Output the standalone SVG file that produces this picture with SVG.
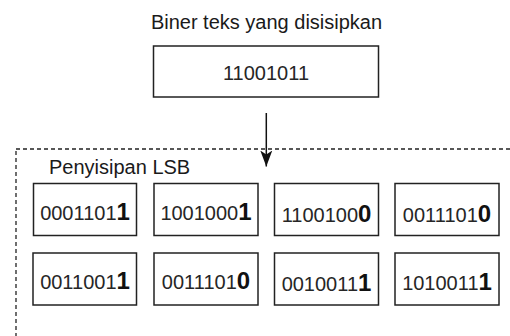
<svg xmlns="http://www.w3.org/2000/svg" width="510" height="336" viewBox="0 0 510 336">
  <defs>
    <style>
      .lbl { font-family: "Liberation Sans", Arial, sans-serif; font-size: 20px; fill: #1a1a1a; }
      .box { fill: #fff; stroke: #222; stroke-width: 1.5; }
      .bits { font-family: "Liberation Sans", Arial, sans-serif; font-size: 20px; fill: #262626; text-anchor: middle; }
      .lsb { font-weight: bold; font-size: 24px; fill: #111; }
      .group { fill: none; stroke: #222; stroke-width: 1.3; stroke-dasharray: 4 3; }
      .edge { stroke: #111; stroke-width: 1.5; fill: none; }
    </style>
    <marker id="arrow" markerWidth="16" markerHeight="14" refX="16" refY="7" orient="auto" markerUnits="userSpaceOnUse" viewBox="0 0 16 14">
      <path d="M0 1 L16 7 L0 13 L4 7 Z" fill="#111"/>
    </marker>
  </defs>

  <rect width="510" height="336" fill="#fff"/>

  <!-- container for the LSB embedding step -->
  <g id="lsb-group">
    <rect class="group" x="16" y="149" width="510" height="200"/>
    <text class="lbl" x="49" y="174">Penyisipan LSB</text>
  </g>

  <!-- message bits -->
  <g id="message">
    <text class="lbl" x="266.5" y="29" text-anchor="middle">Biner teks yang disisipkan</text>
    <rect class="box" x="153.5" y="46" width="225" height="51"/>
    <text class="bits" x="266" y="80">11001011</text>
  </g>

  <!-- connectors -->
  <g id="connectors">
    <path class="edge" d="M266.3 113 V166.5" marker-end="url(#arrow)"/>
  </g>

  <!-- carrier bytes, row 1 -->
  <g id="byte-1">
    <rect class="box" x="33.5" y="183.5" width="103" height="52"/>
    <text class="bits" x="85" y="220">0001101<tspan class="lsb">1</tspan></text>
  </g>
  <g id="byte-2">
    <rect class="box" x="154" y="183.5" width="104" height="52"/>
    <text class="bits" x="206" y="220">1001000<tspan class="lsb">1</tspan></text>
  </g>
  <g id="byte-3">
    <rect class="box" x="274.5" y="183.5" width="104" height="52"/>
    <text class="bits" x="326.5" y="221.5">1100100<tspan class="lsb">0</tspan></text>
  </g>
  <g id="byte-4">
    <rect class="box" x="395" y="183.5" width="104" height="52"/>
    <text class="bits" x="447" y="221.5">0011101<tspan class="lsb">0</tspan></text>
  </g>

  <!-- carrier bytes, row 2 -->
  <g id="byte-5">
    <rect class="box" x="33" y="253" width="103.5" height="52"/>
    <text class="bits" x="85" y="289">0011001<tspan class="lsb">1</tspan></text>
  </g>
  <g id="byte-6">
    <rect class="box" x="154" y="253" width="104" height="52"/>
    <text class="bits" x="206" y="289">0011101<tspan class="lsb">0</tspan></text>
  </g>
  <g id="byte-7">
    <rect class="box" x="274.5" y="253" width="104" height="52"/>
    <text class="bits" x="326.5" y="291">0010011<tspan class="lsb">1</tspan></text>
  </g>
  <g id="byte-8">
    <rect class="box" x="395" y="253" width="104" height="52"/>
    <text class="bits" x="447" y="290">1010011<tspan class="lsb">1</tspan></text>
  </g>
</svg>
